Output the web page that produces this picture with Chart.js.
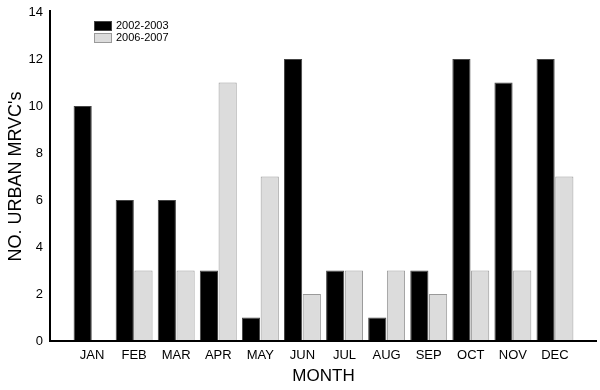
<!DOCTYPE html>
<html>
<head>
<meta charset="utf-8">
<script src="https://cdn.jsdelivr.net/npm/chart.js@4/dist/chart.umd.min.js"></script>
<style>
  html, body { margin: 0; padding: 0; background: #fff; }
</style>
</head>
<body>
<canvas id="chart" width="600" height="390"></canvas>
<script>
// Data
const months = ['JAN', 'FEB', 'MAR', 'APR', 'MAY', 'JUN', 'JUL', 'AUG', 'SEP', 'OCT', 'NOV', 'DEC'];
const period1 = [10, 6, 6, 3, 1, 12, 3, 1, 3, 12, 11, 12];
const period2 = [0, 3, 3, 11, 7, 2, 3, 3, 2, 3, 3, 7];
const seriesNames = ['2002-2003', '2006-2007'];
const yTicks = [0, 2, 4, 6, 8, 10, 12, 14];

const FONT = 'Liberation Sans, Arial, Helvetica, sans-serif';

// Axis lines sit a bit outside the bar area, as in the original figure
const axisLines = {
    id: 'axisLines',
    afterDraw(chart) {
        const { ctx, chartArea } = chart;
        const left = chartArea.left - 21;
        const right = chartArea.right + 21;
        ctx.save();
        ctx.strokeStyle = '#000';
        ctx.lineWidth = 2;
        ctx.beginPath();
        ctx.moveTo(left, chartArea.top - 2);
        ctx.lineTo(left, chartArea.bottom);
        ctx.lineTo(right, chartArea.bottom);
        ctx.stroke();
        ctx.restore();
    }
};

// Small boxed legend in the top-left corner of the plot
const boxLegend = {
    id: 'boxLegend',
    afterDraw(chart) {
        const { ctx } = chart;
        const x = 94, y = 21;
        ctx.save();
        ctx.font = '11px ' + FONT;
        ctx.textBaseline = 'middle';
        chart.data.datasets.forEach((ds, i) => {
            const by = y + i * 12;
            ctx.fillStyle = ds.backgroundColor;
            ctx.fillRect(x, by, 18, 10);
            ctx.strokeStyle = ds.borderColor;
            ctx.lineWidth = 1;
            ctx.strokeRect(x + 0.5, by + 0.5, 17, 9);
            ctx.fillStyle = '#000';
            ctx.fillText(ds.label, x + 22, by + 5);
        });
        ctx.restore();
    }
};

new Chart(document.getElementById('chart'), {
    type: 'bar',
    data: {
        labels: months,
        datasets: [
            {
                label: seriesNames[0],
                data: period1,
                backgroundColor: '#000000',
                borderColor: '#444444',
                borderWidth: 1
            },
            {
                label: seriesNames[1],
                data: period2,
                backgroundColor: '#dcdcdc',
                borderColor: '#9a9a9a',
                borderWidth: 1
            }
        ]
    },
    options: {
        responsive: false,
        animation: false,
        datasets: {
            bar: { categoryPercentage: 0.89, barPercentage: 0.97 }
        },
        layout: { padding: { top: 12, right: 24, left: 0, bottom: 0 } },
        plugins: {
            legend: { display: false },
            title: { display: false },
            tooltip: { enabled: false }
        },
        scales: {
            x: {
                grid: { display: false, drawTicks: false },
                border: { display: false },
                afterFit(scale) {
                    scale.height = 49;
                    scale.paddingLeft = 0;
                    scale.paddingRight = 0;
                },
                ticks: { color: '#000', font: { family: FONT, size: 13 }, padding: 7, maxRotation: 0 },
                title: {
                    display: true,
                    text: 'MONTH',
                    color: '#000',
                    font: { family: FONT, size: 17 },
                    padding: { top: 0, bottom: 3 }
                }
            },
            y: {
                min: 0,
                max: 14,
                grid: { display: false, drawTicks: false },
                border: { display: false },
                afterBuildTicks(scale) {
                    scale.ticks = yTicks.map(v => ({ value: v }));
                },
                afterFit(scale) {
                    scale.width = 71;
                    scale.paddingTop = 0;
                    scale.paddingBottom = 0;
                },
                ticks: { color: '#000', font: { family: FONT, size: 13 }, padding: 28 },
                title: {
                    display: true,
                    text: "NO. URBAN MRVC's",
                    color: '#000',
                    font: { family: FONT, size: 18 },
                    padding: { top: 5, bottom: 0 }
                }
            }
        }
    },
    plugins: [axisLines, boxLegend]
});
</script>
</body>
</html>
